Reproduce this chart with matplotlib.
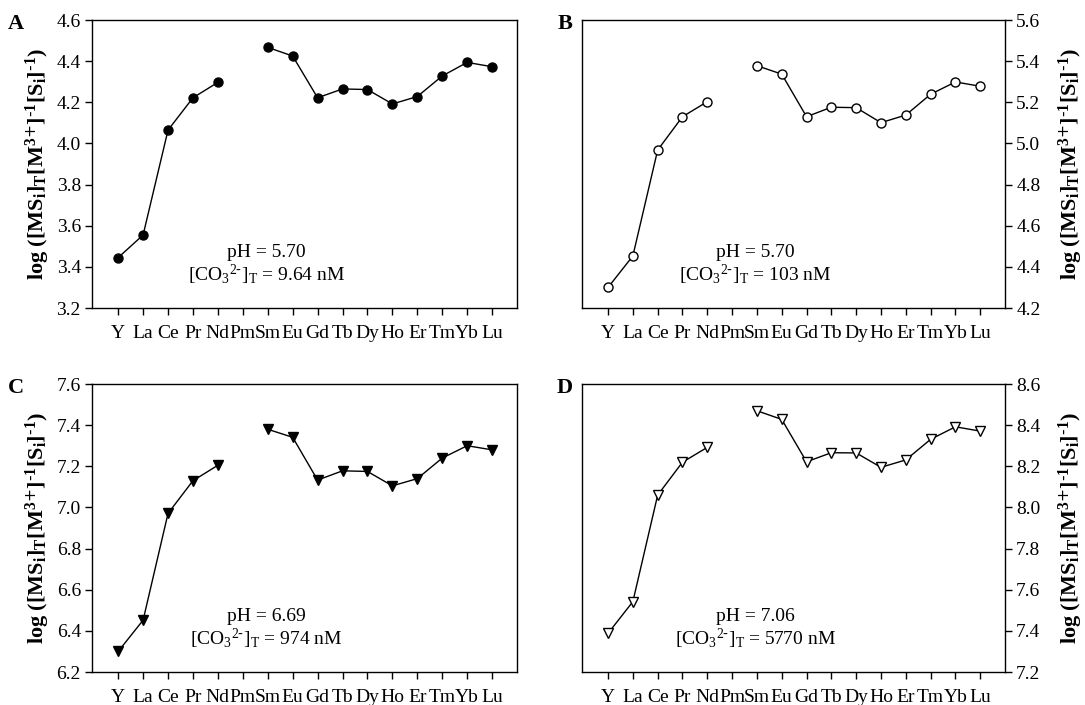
import numpy as np
import matplotlib
matplotlib.use('Agg')
import matplotlib.pyplot as plt

plt.rcParams['font.family'] = ['Liberation Serif', 'DejaVu Serif']
plt.rcParams['mathtext.default'] = 'regular'
plt.rcParams['axes.linewidth'] = 1.0

# Данные: log константы для ряда РЗЭ (Pm пропущен)
elements = ['Y', 'La', 'Ce', 'Pr', 'Nd', 'Pm', 'Sm', 'Eu', 'Gd', 'Tb', 'Dy', 'Ho', 'Er', 'Tm', 'Yb', 'Lu']
nan = np.nan
logk_a = [3.445, 3.555, 4.065, 4.222, 4.297, nan, 4.467, 4.425, 4.222, 4.265, 4.262, 4.192, 4.228, 4.328, 4.394, 4.373]
logk_b = [4.300, 4.453, 4.968, 5.130, 5.203, nan, 5.378, 5.337, 5.130, 5.176, 5.174, 5.101, 5.138, 5.239, 5.299, 5.278]
logk_c = [6.300, 6.452, 6.971, 7.130, 7.205, nan, 7.380, 7.341, 7.133, 7.178, 7.175, 7.105, 7.140, 7.240, 7.300, 7.280]
logk_d = [7.388, 7.542, 8.060, 8.220, 8.292, nan, 8.470, 8.428, 8.222, 8.266, 8.265, 8.195, 8.231, 8.331, 8.392, 8.371]

ph_values = ['5.70', '5.70', '6.69', '7.06']
co3_values = ['9.64', '103', '974', '5770']
panel_letters = ['A', 'B', 'C', 'D']
ylims = [(3.2, 4.6), (4.2, 5.6), (6.2, 7.6), (7.2, 8.6)]

ylabel = r'log ([MS$_i$]$_T$[M$^{3\text{+}}$]$^{\text{-}1}$[S$_i$]$^{\text{-}1}$)'

fig = plt.figure(figsize=(10.85, 7.05), dpi=100)

# позиции осей в долях фигуры
positions = [
    [0.0848, 0.5631, 0.3917, 0.4085],
    [0.5364, 0.5631, 0.3899, 0.4085],
    [0.0848, 0.0468, 0.3917, 0.4085],
    [0.5364, 0.0468, 0.3899, 0.4085],
]
series = [logk_a, logk_b, logk_c, logk_d]
markers = [
    dict(marker='o', mfc='black'),
    dict(marker='o', mfc='white'),
    dict(marker='v', mfc='black'),
    dict(marker='v', mfc='white'),
]

x = np.arange(len(elements))
for i in range(4):
    ax = fig.add_axes(positions[i])
    ax.plot(x, series[i], color='black', lw=1.0, mec='black', mew=1.0,
            markersize=6.5 if markers[i]['marker'] == 'o' else 7, **markers[i])
    ax.set_xlim(-1.05, 16.0)
    ax.set_ylim(*ylims[i])
    ax.set_yticks(np.arange(ylims[i][0], ylims[i][1] + 0.01, 0.2))
    ax.yaxis.set_major_formatter(matplotlib.ticker.FormatStrFormatter('%.1f'))
    ax.set_xticks(x)
    ax.set_xticklabels(elements)
    ax.tick_params(axis='both', direction='out', length=5, width=1.0, labelsize=14, pad=3)
    ax.tick_params(axis='x', pad=7)
    right = i % 2 == 1
    if right:
        ax.yaxis.tick_right()
        ax.yaxis.set_label_position('right')
        ax.set_ylabel(ylabel, fontsize=16, fontweight='bold', rotation=90, labelpad=12)
    else:
        ax.set_ylabel(ylabel, fontsize=16, fontweight='bold', labelpad=3)
    ax.text(0.41, 0.193, 'pH = ' + ph_values[i], transform=ax.transAxes,
            ha='center', va='center', fontsize=14)
    ax.text(0.41, 0.115, r'[CO$_3$$^{2\text{-}}$]$_T$ = ' + co3_values[i] + ' nM', transform=ax.transAxes,
            ha='center', va='center', fontsize=14)
    ax.text(-0.18 if not right else -0.04, 0.985, panel_letters[i], transform=ax.transAxes,
            ha='center', va='center', fontsize=16, fontweight='bold')

plt.savefig('out.png', dpi=100)
